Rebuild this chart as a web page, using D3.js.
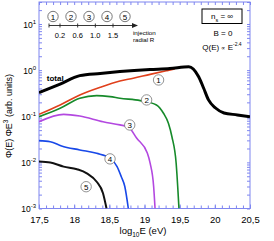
<!DOCTYPE html>
<html>
<head>
<meta charset="utf-8">
<script src="https://cdn.jsdelivr.net/npm/d3@7"></script>
<style>
  body { margin: 0; background: #fff; }
  svg { font-family: "Liberation Sans", Arial, sans-serif; }
  .axis path, .axis line { stroke: #7f86f0; }
  .axis text { fill: #000; }
</style>
</head>
<body>
<div id="chart"></div>
<script>
// curves: [log10 E, flux * E^3]
const totalSeries = [[17.5,0.325],[17.8,0.50],[18.08,0.76],[18.37,0.85],[18.65,0.93],[19.08,1.03],[19.36,1.08],[19.63,1.19],
  [19.77,0.72],[19.84,0.41],[19.91,0.226],[20.01,0.151],[20.13,0.118],[20.32,0.107],[20.5,0.097]];
const radius1 = [[17.5,0.110],[17.8,0.176],[18.08,0.29],[18.37,0.425],[18.65,0.58],[18.84,0.667],[19.08,0.81],[19.32,0.975],[19.43,1.06]];
const radius2 = [[17.5,0.098],[17.8,0.149],[18.08,0.246],[18.32,0.28],[18.51,0.266],[18.65,0.246],[18.94,0.218],[19.17,0.176],
  [19.27,0.116],[19.34,0.0705],[19.39,0.036],[19.45,0.0096],[19.49,0.001]];
const radius3 = [[17.5,0.076],[17.85,0.110],[18.08,0.101],[18.41,0.076],[18.65,0.065],[18.77,0.0586],[18.89,0.0333],
  [19.04,0.016],[19.08,0.0096],[19.13,0.003],[19.15,0.001]];
const radius4 = [[17.5,0.0296],[17.66,0.0281],[17.82,0.0227],[18.08,0.0186],[18.32,0.0157],[18.51,0.0123],[18.61,0.0081],
  [18.67,0.0049],[18.72,0.003],[18.77,0.001]];
const radius5 = [[17.5,0.0104],[17.66,0.0099],[17.85,0.0081],[18.04,0.0071],[18.18,0.0058],[18.32,0.0038],[18.41,0.00214],[18.46,0.001]];

const curveLabels = [[19.2,0.612],[19.03,0.226],[18.79,0.0647],[18.51,0.0119],[18.17,0.00297]];
const radiusLabels = ['1','2','3','4','5'];
const radiusTicks = ['0.2','0.6','1.0','1.5'];
const xTickValues = [17.5,18,18.5,19,19.5,20,20.5];
const yTickValues = [-3,-2,-1,0,1];

const width = 274, height = 241;
const m = {top: 2, right: 24, bottom: 32.5, left: 39};

const svg = d3.select('#chart').append('svg')
  .attr('width', width).attr('height', height);

const x = d3.scaleLinear().domain([17.5, 20.5]).range([m.left, width - m.right]);
const y = d3.scaleLog().domain([1e-3, 30]).range([height - m.bottom, m.top]);

svg.append('clipPath').attr('id', 'clip').append('rect')
  .attr('x', m.left).attr('y', m.top)
  .attr('width', x.range()[1] - m.left).attr('height', y.range()[0] - m.top);

// minor ticks
const xMinor = d3.range(17.5, 20.51, 0.1).map(d => +d.toFixed(1));
const yMinor = [];
for (let e = -3; e <= 1; e++) for (let k = 1; k <= 9; k++) { const v = k * Math.pow(10, e); if (v <= 30) yMinor.push(v); }

const fmtX = d => String(d).replace('.', ',');

// bottom axis
svg.append('g').attr('class', 'axis')
  .attr('transform', `translate(0,${y.range()[0]})`)
  .call(d3.axisBottom(x).tickValues(xMinor).tickSize(-3).tickFormat(''))
  .call(g => g.select('.domain').remove());
svg.append('g').attr('class', 'axis')
  .attr('transform', `translate(0,${y.range()[0]})`)
  .call(d3.axisBottom(x).tickValues(xTickValues).tickSize(-4).tickPadding(8).tickFormat(fmtX))
  .call(g => g.selectAll('text').attr('font-size', 9.5))
  .call(g => g.select('.domain').remove());

// top axis
svg.append('g').attr('class', 'axis')
  .attr('transform', `translate(0,${m.top})`)
  .call(d3.axisTop(x).tickValues(xMinor).tickSize(-3).tickFormat(''))
  .call(g => g.select('.domain').remove());

// left axis
svg.append('g').attr('class', 'axis')
  .attr('transform', `translate(${m.left},0)`)
  .call(d3.axisLeft(y).tickValues(yMinor).tickSize(-3).tickFormat(''))
  .call(g => g.select('.domain').remove());
// right axis
svg.append('g').attr('class', 'axis')
  .attr('transform', `translate(${x.range()[1]},0)`)
  .call(d3.axisRight(y).tickValues(yMinor).tickSize(-3).tickFormat(''))
  .call(g => g.select('.domain').remove());

// frame
svg.append('rect')
  .attr('x', m.left).attr('y', m.top)
  .attr('width', x.range()[1] - m.left).attr('height', y.range()[0] - m.top)
  .attr('fill', 'none').attr('stroke', '#7f86f0').attr('stroke-width', 1);

// y tick labels 10^n
const yl = svg.append('g');
yTickValues.forEach(e => {
  const t = yl.append('text')
    .attr('x', m.left - 3).attr('y', y(Math.pow(10, e)) + 3.5)
    .attr('text-anchor', 'end').attr('font-size', 8.5);
  t.append('tspan').text('10');
  t.append('tspan').attr('dy', -4).attr('font-size', 6).text(e);
});

// curves
const line = d3.line()
  .x(d => x(d[0])).y(d => y(d[1]))
  .curve(d3.curveMonotoneX);
const plot = svg.append('g').attr('clip-path', 'url(#clip)');

const series = [
  {data: radius5, color: '#111', w: 2},
  {data: radius4, color: '#1848e8', w: 1.6},
  {data: radius3, color: '#b348e0', w: 1.6},
  {data: radius2, color: '#168a2a', w: 1.6},
  {data: radius1, color: '#e0401c', w: 1.6},
  {data: totalSeries, color: '#000', w: 3}
];
series.forEach(s => {
  plot.append('path').datum(s.data)
    .attr('d', line).attr('fill', 'none')
    .attr('stroke', s.color).attr('stroke-width', s.w)
    .attr('stroke-linejoin', 'round');
});

// curve labels
const lab = svg.append('g');
curveLabels.forEach((d, i) => {
  lab.append('circle').attr('cx', x(d[0])).attr('cy', y(d[1])).attr('r', 5.2)
    .attr('fill', '#fff').attr('stroke', '#777').attr('stroke-width', 0.8);
  lab.append('text').attr('x', x(d[0])).attr('y', y(d[1]) + 3)
    .attr('text-anchor', 'middle').attr('font-size', 8).text(radiusLabels[i]);
});
svg.append('text').attr('x', x(17.61)).attr('y', y(0.58))
  .attr('font-size', 8).attr('font-weight', 'bold').text('total');

// radius legend
const lx = d3.scalePoint().domain(radiusLabels).range([53, 125]);
const leg = svg.append('g');
radiusLabels.forEach(r => {
  leg.append('circle').attr('cx', lx(r)).attr('cy', 16.5).attr('r', 5.2)
    .attr('fill', '#fff').attr('stroke', '#555').attr('stroke-width', 0.8);
  leg.append('text').attr('x', lx(r)).attr('y', 19.5)
    .attr('text-anchor', 'middle').attr('font-size', 8).text(r);
});
leg.append('line').attr('x1', 49).attr('x2', 134).attr('y1', 25.5).attr('y2', 25.5)
  .attr('stroke', '#222').attr('stroke-width', 0.9);
leg.append('path').attr('d', 'M138,25.5 L132,23 L132,28 Z').attr('fill', '#222');
const tx = d3.scalePoint().domain(radiusTicks).range([60, 113]);
[49].concat(radiusTicks.map(t => tx(t))).forEach(p => {
  leg.append('line').attr('x1', p).attr('x2', p).attr('y1', 23.5).attr('y2', 27.5)
    .attr('stroke', '#222').attr('stroke-width', 0.9);
});
radiusTicks.forEach(t => {
  leg.append('text').attr('x', tx(t)).attr('y', 37.5)
    .attr('text-anchor', 'middle').attr('font-size', 7.5).text(t);
});
leg.append('text').attr('x', 133).attr('y', 35).attr('font-size', 6.2).text('injection');
leg.append('text').attr('x', 133).attr('y', 42).attr('font-size', 6.2).text('radial R');

// parameters box
svg.append('rect').attr('x', 202).attr('y', 9).attr('width', 40).attr('height', 14.5)
  .attr('fill', '#fff').attr('stroke', '#000').attr('stroke-width', 1);
const ns = svg.append('text').attr('x', 222).attr('y', 19).attr('text-anchor', 'middle').attr('font-size', 8);
ns.append('tspan').text('n');
ns.append('tspan').attr('dy', 3).attr('font-size', 5.5).text('s');
ns.append('tspan').attr('dy', -3).text(' = ∞');
svg.append('text').attr('x', 223).attr('y', 36).attr('text-anchor', 'middle').attr('font-size', 8).text('B = 0');
const q = svg.append('text').attr('x', 222).attr('y', 50).attr('text-anchor', 'middle').attr('font-size', 8);
q.append('tspan').text('Q(E) ');
q.append('tspan').attr('font-size', 6).text('∝');
q.append('tspan').text(' E');
q.append('tspan').attr('dy', -4).attr('font-size', 5).text('-2.4');

// axis titles
const xt = svg.append('text').attr('x', 143).attr('y', 234).attr('text-anchor', 'middle').attr('font-size', 9.5);
xt.append('tspan').text('log');
xt.append('tspan').attr('dy', 3).attr('font-size', 6.5).text('10');
xt.append('tspan').attr('dy', -3).text('E (eV)');

const yt = svg.append('text').attr('transform', 'translate(12,116) rotate(-90)')
  .attr('text-anchor', 'middle').attr('font-size', 9);
yt.append('tspan').text('Φ(E)  ΦE');
yt.append('tspan').attr('dy', -4).attr('font-size', 6.5).text('3');
yt.append('tspan').attr('dy', 4).text(' (arb. units)');
</script>
</body>
</html>
